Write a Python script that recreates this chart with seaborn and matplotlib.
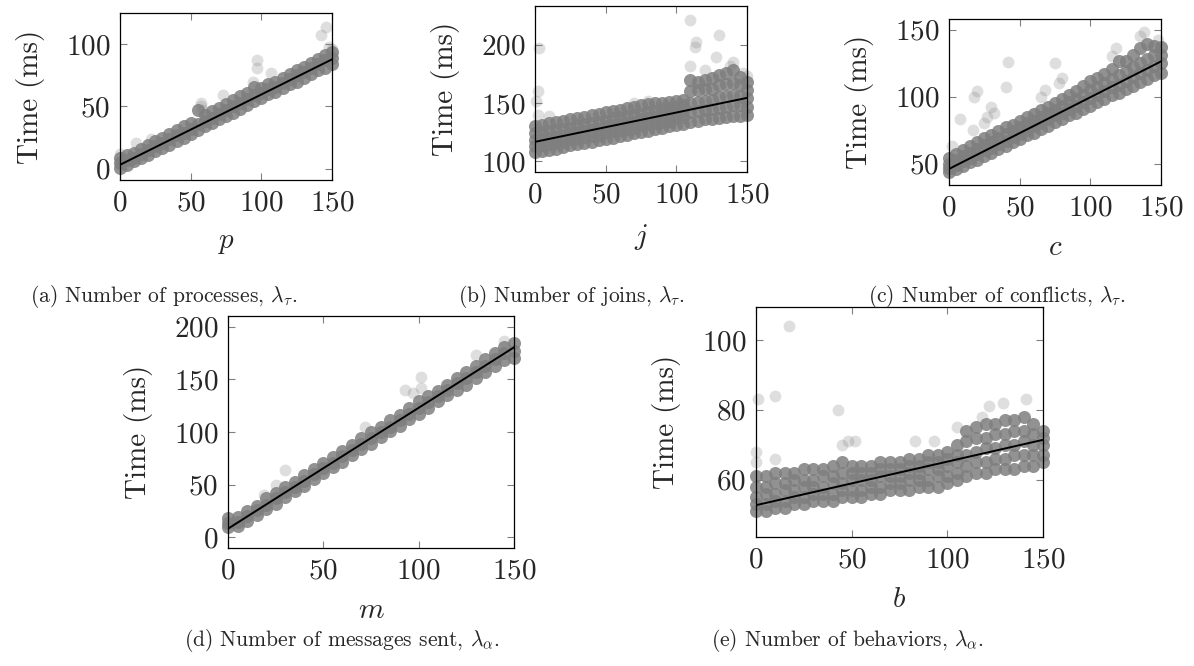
import pandas as pd
import matplotlib.pyplot as plt
import seaborn as sns

# x positions sampled along every panel
x_steps = [0, 5, 10, 15, 20, 25, 30, 35, 40, 45, 50, 55, 60, 65, 70, 75,
           80, 85, 90, 95, 100, 105, 110, 115, 120, 125, 130, 135, 140, 145, 150]
fit_x = [0, 150]

# (a) number of processes
a_lo = [1, 3, 6, 9, 11, 14, 17, 19, 22, 25, 28, 31, 34, 37, 40, 42,
        45, 48, 51, 54, 57, 60, 62, 65, 68, 70, 73, 76, 79, 81, 84]
a_mid = [5, 7, 9, 12, 15, 18, 21, 24, 27, 29, 32, 36, 38, 41, 44, 47,
         50, 53, 56, 59, 61, 64, 66, 69, 72, 75, 78, 81, 84, 87, 89]
a_hi = [9, 11, 13, 16, 19, 22, 25, 28, 31, 34, 37, 47, 43, 46, 49, 52,
        55, 58, 61, 66, 65, 68, 70, 73, 76, 79, 82, 85, 88, 91, 94]
a_out_x = [11, 57, 57, 58, 73, 94, 97, 97, 107, 142, 146, 148, 150, 0, 22]
a_out_y = [21, 50, 53, 47, 59, 70, 87, 81, 77, 107, 114, 98, 96, 12, 24]
a_fit = [3.2, 87.8]

# (b) number of joins
b_r1 = [108, 109, 110, 111, 112, 114, 115, 116, 117, 118, 119, 120, 122, 123, 124, 125,
        126, 128, 129, 130, 131, 132, 134, 135, 136, 136, 137, 138, 139, 139, 140]
b_r2 = [113, 114, 115, 116, 117, 119, 120, 121, 122, 123, 125, 126, 127, 128, 129, 131,
        132, 133, 134, 135, 137, 138, 142, 143, 144, 145, 146, 147, 148, 148, 147]
b_r3 = [118, 119, 120, 121, 122, 124, 125, 126, 127, 128, 130, 131, 132, 133, 134, 136,
        137, 138, 139, 140, 142, 143, 150, 151, 152, 153, 155, 156, 157, 156, 154]
b_r4 = [124, 125, 126, 127, 128, 129, 131, 132, 133, 134, 135, 137, 138, 139, 140, 141,
        142, 143, 145, 146, 147, 148, 160, 161, 162, 162, 165, 166, 167, 165, 161]
b_r5 = [130, 131, 133, 134, 135, 136, 137, 138, 140, 141, 142, 143, 144, 146, 147, 148,
        149, 150, 150, 151, 152, 153, 170, 168, 170, 171, 174, 176, 178, 172, 168]
b_out_x = [3, 2, 1, 2, 110, 113, 114, 130, 128, 138, 110, 120, 147, 150, 140, 70, 80, 10]
b_out_y = [197, 160, 152, 140, 221, 198, 202, 208, 189, 182, 182, 178, 176, 173, 185, 150, 152, 139]
b_fit = [116.8, 154.4]

# (c) number of conflicts
c_lo = [44, 46, 48, 51, 53, 56, 58, 61, 63, 66, 68, 71, 73, 76, 78, 81,
        83, 86, 88, 91, 93, 96, 98, 101, 103, 106, 108, 111, 113, 116, 118]
c_m1 = [47, 49, 52, 54, 57, 60, 62, 65, 67, 70, 72, 75, 78, 80, 83, 86,
        88, 91, 93, 96, 99, 101, 104, 107, 109, 112, 115, 118, 120, 123, 125]
c_m2 = [50, 53, 56, 58, 61, 64, 66, 69, 72, 74, 77, 80, 82, 85, 88, 90,
        93, 96, 98, 101, 105, 107, 110, 113, 116, 119, 122, 125, 128, 131, 131]
c_hi = [54, 57, 60, 63, 66, 69, 71, 74, 77, 79, 82, 85, 87, 90, 92, 95,
        98, 101, 104, 108, 112, 114, 117, 121, 127, 127, 131, 136, 139, 138, 137]
c_out_x = [2, 8, 17, 18, 20, 25, 27, 30, 32, 40, 42, 65, 68, 75, 78, 80, 60, 115, 118, 135, 138, 148]
c_out_y = [63, 83, 75, 100, 104, 80, 85, 92, 88, 107, 126, 100, 105, 125, 110, 114, 88, 130, 136, 145, 148, 142]
c_fit = [46.0, 126.3]

# (d) number of messages sent
d_lo = [10, 11, 16, 21, 27, 32, 38, 44, 49, 55, 61, 67, 72, 78, 84, 89,
        95, 101, 106, 112, 117, 123, 129, 135, 140, 145, 151, 157, 163, 168, 170]
d_mid = [14, 15, 20, 26, 31, 37, 43, 48, 54, 60, 66, 71, 77, 83, 89, 94,
         100, 105, 111, 117, 123, 128, 134, 140, 146, 151, 157, 163, 169, 175, 177]
d_hi = [18, 19, 25, 30, 37, 42, 48, 53, 59, 65, 71, 76, 82, 88, 94, 100,
        105, 111, 116, 123, 129, 134, 139, 145, 151, 157, 163, 169, 175, 181, 184]
d_out_x = [30, 93, 101, 101, 97, 19, 25, 72, 130, 145]
d_out_y = [64, 140, 152, 142, 137, 40, 50, 105, 173, 186]
d_fit = [8.3, 180.3]

# (e) number of behaviors
e_r1 = [51, 51, 52, 52, 53, 53, 54, 54, 54, 55, 55, 55, 56, 56, 57, 57,
        57, 58, 58, 58, 59, 60, 61, 62, 62, 63, 63, 63, 64, 64, 65]
e_r2 = [53, 53, 54, 54, 55, 55, 56, 56, 56, 57, 57, 57, 58, 58, 59, 59,
        60, 60, 60, 61, 61, 62, 64, 65, 65, 66, 66, 67, 67, 67, 67]
e_r3 = [55, 56, 56, 57, 57, 58, 58, 58, 59, 59, 60, 60, 60, 61, 61, 61,
        62, 62, 63, 63, 64, 65, 67, 68, 69, 69, 70, 70, 71, 70, 70]
e_r4 = [58, 58, 59, 59, 60, 60, 60, 61, 61, 62, 62, 62, 62, 63, 63, 63,
        64, 64, 65, 65, 66, 67, 71, 72, 72, 73, 73, 74, 74, 73, 72]
e_r5 = [61, 61, 62, 62, 62, 63, 63, 63, 64, 65, 64, 64, 64, 65, 65, 65,
        66, 66, 67, 67, 68, 70, 74, 75, 76, 76, 77, 77, 78, 76, 74]
e_out_x = [17, 1, 10, 43, 0, 0, 10, 45, 48, 52, 83, 93, 105, 118, 122, 129, 141]
e_out_y = [104, 83, 84, 80, 68, 65, 66, 70, 71, 71, 71, 71, 75, 78, 81, 82, 83]
e_fit = [52.7, 71.4]

sns.set_theme(style="ticks")
plt.rcParams.update({
    "font.family": "serif",
    "font.serif": ["cmr10"],
    "mathtext.fontset": "cm",
    "axes.formatter.use_mathtext": True,
    "axes.unicode_minus": False,
})

W, H = 1194, 666
fig = plt.figure(figsize=(W / 100, H / 100), dpi=100)
grey = "#7f7f7f"


def panel(box, rows, out_x, out_y, fit, ylim, yticks, xlab, caption, cap_xy):
    l, t, r, b = box
    ax = fig.add_axes([l / W, 1 - b / H, (r - l) / W, (b - t) / H])
    df = pd.DataFrame({"x": x_steps * len(rows), "y": sum(rows, [])})
    sns.scatterplot(data=df, x="x", y="y", ax=ax, color=grey, alpha=0.85,
                    s=88, linewidth=0, clip_on=False)
    sns.scatterplot(x=out_x, y=out_y, ax=ax, color=grey, alpha=0.25,
                    s=72, linewidth=0, clip_on=False)
    sns.lineplot(x=fit_x, y=fit, ax=ax, color="black", lw=1.4, zorder=5)
    ax.set_xlim(0, 150)
    ax.set_ylim(*ylim)
    ax.set_xticks([0, 50, 100, 150])
    ax.set_yticks(yticks)
    ax.tick_params(direction="in", top=True, right=True, length=5, width=0.8,
                   color="0.5", labelsize=21, pad=7)
    for s in ax.spines.values():
        s.set_color("black")
        s.set_linewidth(0.9)
    ax.set_xlabel(xlab, fontsize=21, labelpad=10)
    ax.set_ylabel("Time (ms)", fontsize=21, labelpad=15)
    fig.text(cap_xy[0] / W, 1 - cap_xy[1] / H, caption, fontsize=15.5,
             ha="center", va="center")
    return ax


panel((120, 13, 332, 180), [a_lo, a_mid, a_hi], a_out_x, a_out_y, a_fit,
      (-9, 125), [0, 50, 100], "$p$", r"(a) Number of processes, $\lambda_{\tau}$.", (164, 296))
panel((535, 6, 747, 172), [b_r1, b_r2, b_r3, b_r4, b_r5], b_out_x, b_out_y, b_fit,
      (91, 233), [100, 150, 200], "$j$", r"(b) Number of joins, $\lambda_{\tau}$.", (571, 296))
panel((949, 19, 1161, 185), [c_lo, c_m1, c_m2, c_hi], c_out_x, c_out_y, c_fit,
      (34, 158), [50, 100, 150], "$c$", r"(c) Number of conflicts, $\lambda_{\tau}$.", (997, 296))
panel((228, 316, 514, 548), [d_lo, d_mid, d_hi], d_out_x, d_out_y, d_fit,
      (-10, 210), [0, 50, 100, 150, 200], "$m$", r"(d) Number of messages sent, $\lambda_{\alpha}$.", (342, 640))
panel((756, 307, 1043, 537), [e_r1, e_r2, e_r3, e_r4, e_r5], e_out_x, e_out_y, e_fit,
      (43.6, 109.4), [60, 80, 100], "$b$", r"(e) Number of behaviors, $\lambda_{\alpha}$.", (848, 640))

fig.savefig("out.png", dpi=100)
